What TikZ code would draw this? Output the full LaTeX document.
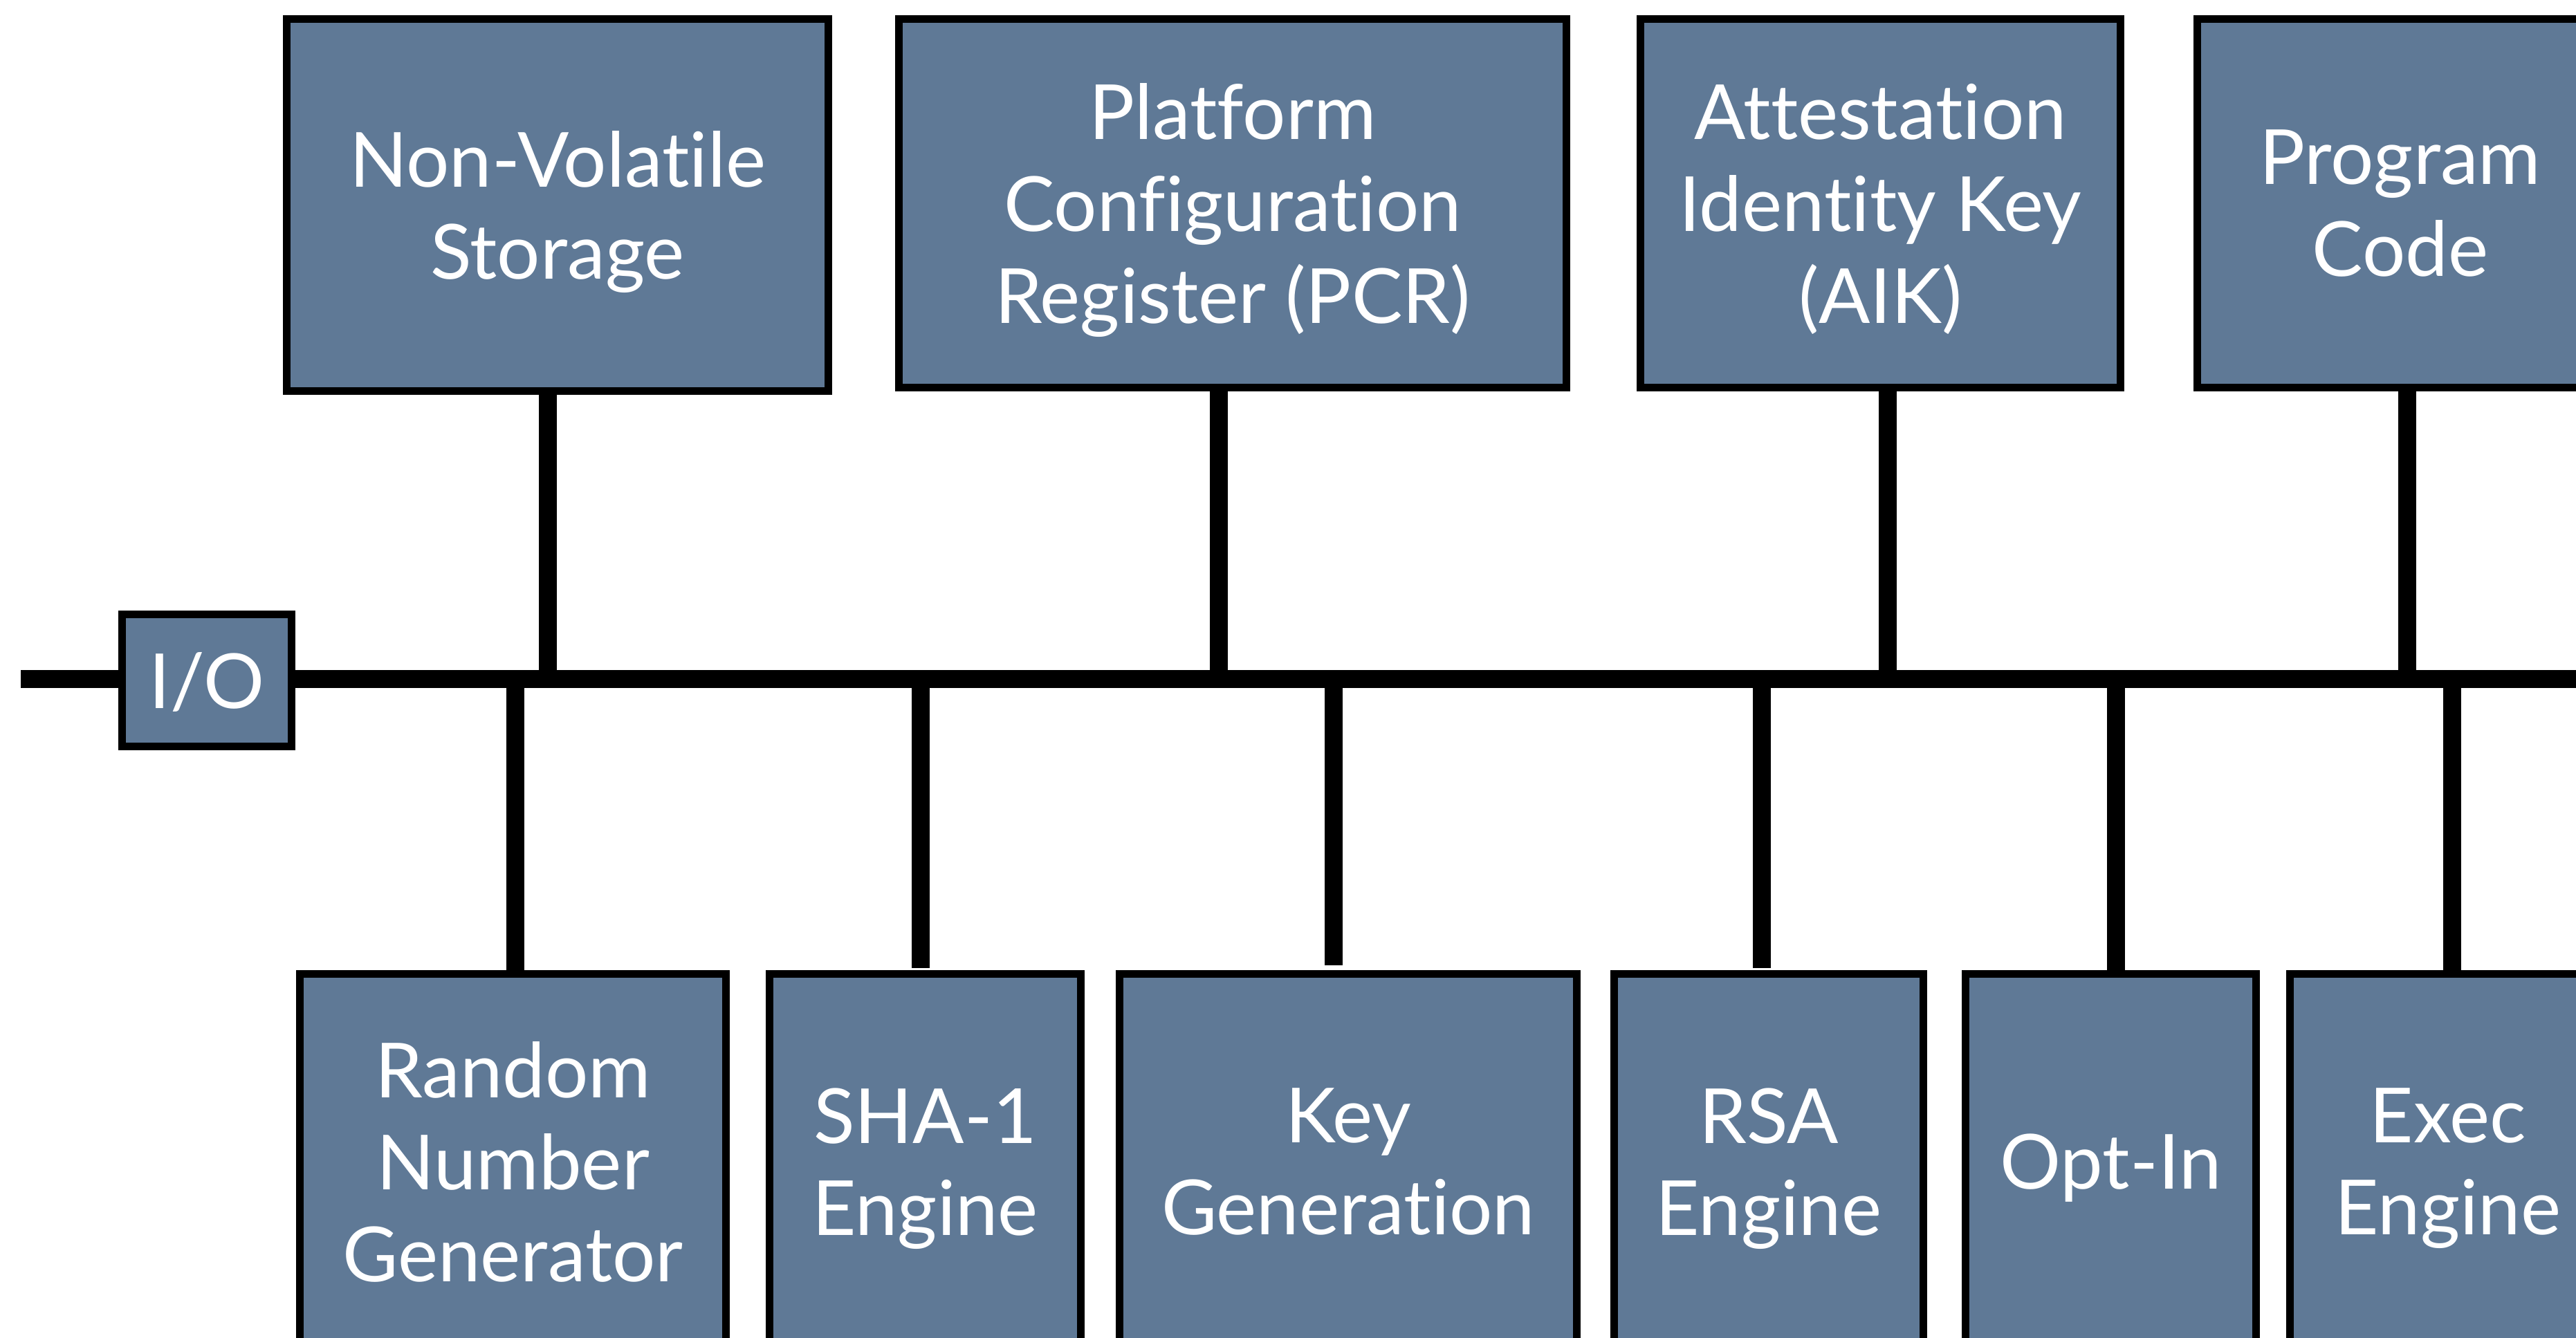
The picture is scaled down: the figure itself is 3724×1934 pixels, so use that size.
\documentclass[tikz,border=0pt]{standalone}
\usepackage{fontspec}
\setmainfont{Lato}[Ligatures={CommonOff}]
\definecolor{tpmblue}{RGB}{95,121,150}
\newcommand\unitfont{\fontsize{55}{66.5}\selectfont}
\tikzset{
  unitbox/.style={draw=black, line width=5.5pt, fill=tpmblue, inner sep=0pt,
    text=white, align=center, font=\unitfont, text depth=0pt},
  wire/.style={draw=black, line width=13pt, line cap=butt},
}
\begin{document}
\begin{tikzpicture}[x=0.5pt, y=-0.5pt]
  \useasboundingbox (0,0) rectangle (3724,1934);
  \clip (0,0) rectangle (3724,1934);

  % bus and its taps
  \coordinate (busL) at (30,982);
  \coordinate (busR) at (3724,982);
  \coordinate (tNvs) at (792,982);
  \coordinate (tPcr) at (1762,982);
  \coordinate (tAik) at (2729,982);
  \coordinate (tPrg) at (3480,982);
  \coordinate (tRng) at (745,982);
  \coordinate (tSha) at (1331,982);
  \coordinate (tKey) at (1928,982);
  \coordinate (tRsa) at (2547,982);
  \coordinate (tOpt) at (3059,982);
  \coordinate (tExe) at (3545,982);
  \coordinate (eSha) at (1331,1400);
  \coordinate (eKey) at (1928,1396);
  \coordinate (eRsa) at (2547,1400);

  \draw[wire] (busL) -- (busR);

  % upper units
  \node[unitbox, minimum width=391.5pt, minimum height=269pt] (nvs) at (806,296.5)
    {Non-Volatile\\Storage};
  \node[unitbox, minimum width=482.5pt, minimum height=266.5pt] (pcr) at (1782,294)
    {Platform\\Configuration\\Register (PCR)};
  \node[unitbox, minimum width=347pt, minimum height=266.5pt] (aik) at (2718.5,294)
    {Attestation\\Identity Key\\(AIK)};
  \node[unitbox, minimum width=293.5pt, minimum height=266.5pt] (prg) at (3470,294)
    {Program\\Code};

  % lower units
  \node[unitbox, minimum width=308pt, minimum height=271.5pt] (rng) at (741.5,1680)
    {Random\\Number\\Generator};
  \node[unitbox, minimum width=225pt, minimum height=271.5pt] (sha) at (1337.5,1680)
    {SHA-1\\Engine};
  \node[unitbox, minimum width=330.5pt, minimum height=271.5pt] (key) at (1949,1680)
    {Key\\Generation};
  \node[unitbox, minimum width=223.5pt, minimum height=271.5pt] (rsa) at (2557,1680)
    {RSA\\Engine};
  \node[unitbox, minimum width=210pt, minimum height=271.5pt] (opt) at (3051.5,1680)
    {Opt-In};
  \node[unitbox, minimum width=228.5pt, minimum height=271.5pt] (exe) at (3539,1680)
    {Exec\\Engine};

  % I/O port on the bus
  \node[unitbox, minimum width=122.5pt, minimum height=95.5pt] (io) at (299,984) {I/O};

  % connections to the bus
  \draw[wire] (nvs.south -| tNvs) -- (tNvs);
  \draw[wire] (pcr.south -| tPcr) -- (tPcr);
  \draw[wire] (aik.south -| tAik) -- (tAik);
  \draw[wire] (prg.south -| tPrg) -- (tPrg);
  \draw[wire] (tRng) -- (rng.north -| tRng);
  \draw[wire] (tSha) -- (eSha);
  \draw[wire] (tKey) -- (eKey);
  \draw[wire] (tRsa) -- (eRsa);
  \draw[wire] (tOpt) -- (opt.north -| tOpt);
  \draw[wire] (tExe) -- (exe.north -| tExe);
\end{tikzpicture}
\end{document}
